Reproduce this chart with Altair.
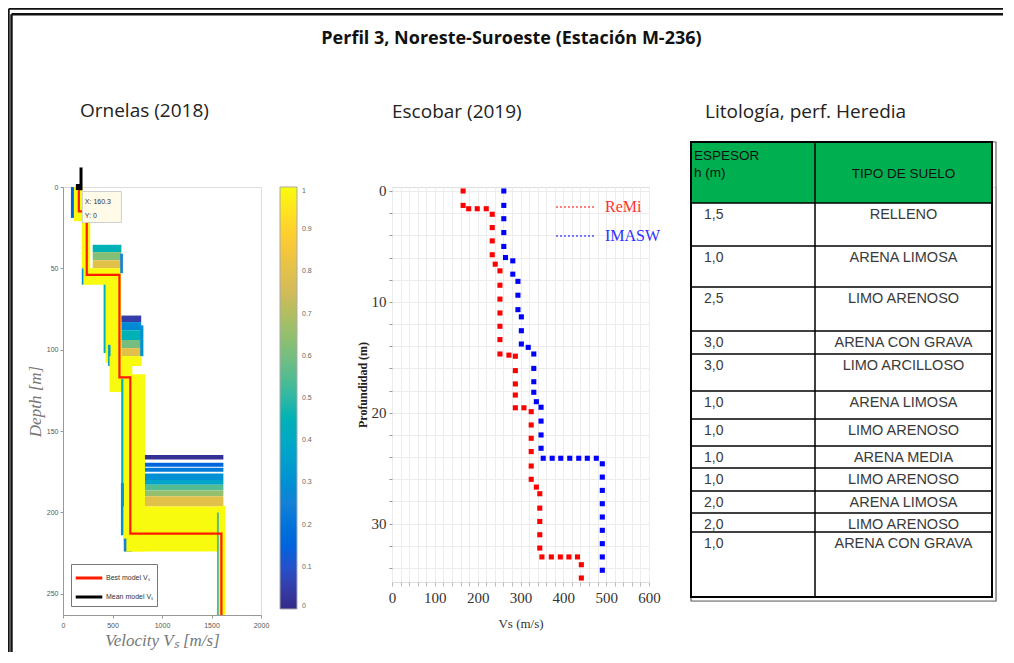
import altair as alt
import pandas as pd

# ---------------- data ----------------
# Ornelas (2018): ensemble of Vs models (blocks), velocity m/s, depth m, normalised likelihood
ens_v_from = [80, 110, 190, 190, 300, 300, 300, 220, 578, 410, 430, 590, 590, 590, 590, 590, 780, 455, 470, 590,
              588, 610, 828, 828, 828, 828, 828, 828, 828, 828, 585, 610, 615, 640, 1555, 1575]
ens_v_to = [118, 195, 275, 206, 590, 590, 590, 585, 605, 440, 585, 790, 790, 790, 790, 790, 812, 480, 700, 795,
            625, 830, 1620, 1620, 1620, 1620, 1620, 1620, 1620, 1620, 615, 1625, 700, 1625, 1575, 1640]
ens_d_from = [0, 0, 17, 50, 35.5, 40, 45, 50, 41, 60, 54, 79, 83, 88, 94, 99, 85, 97, 104, 104,
              118, 115, 164.7, 169.4, 172.5, 176, 180, 183, 186.5, 190, 182, 196.4, 216, 212, 200, 196]
ens_d_to = [19, 21, 60, 60, 40, 45, 50, 60, 53, 102, 108, 83, 88, 94, 99, 104, 104, 110, 126, 110,
            212, 224, 167.4, 171.9, 174.9, 180, 183, 186.5, 190, 196.4, 214, 219, 224, 224, 263, 263]
ens_prob = [0.15, 1, 1, 0.3, 0.45, 0.62, 0.8, 1, 0.25, 0.45, 1, 0.05, 0.28, 0.45, 0.6, 0.8, 0.3, 0.35, 1, 1,
            0.45, 1, 0.02, 0.15, 0.22, 0.3, 0.38, 0.55, 0.65, 0.8, 0.3, 1, 0.25, 1, 0.55, 1]

best_v = [160, 160, 240, 240, 570, 570, 680, 680, 1600, 1600]
best_d = [0, 15, 15, 54, 54, 117, 117, 213, 213, 263]
mean_v = [182, 182]
mean_d = [-12, 2]
tip_x = 160.3
tip_y = 0

# Escobar (2019)
remi_vs = [166, 166, 179, 199, 220, 234, 234, 234, 234, 241, 252, 252, 252, 252, 252, 252, 252, 273, 288, 288,
           288, 288, 288, 308, 325, 325, 325, 325, 325, 325, 337, 345, 345, 345, 345, 345, 350, 372, 393, 413,
           433, 442, 442]
remi_depth = [0, 1.3, 1.6, 1.6, 1.6, 2.1, 3.3, 4.5, 5.75, 6.6, 7.2, 8.5, 9.75, 11, 12.2, 13.4, 14.7, 14.8, 14.9,
              16.2, 17.4, 18.4, 19.55, 19.55, 19.9, 21.1, 22.3, 23.5, 24.8, 26.0, 26.7, 27.3, 28.6, 29.8, 31.0,
              32.2, 33.0, 33.0, 33.0, 33.0, 33.0, 33.7, 34.9]
imasw_vs = [261, 261, 261, 261, 261, 265, 282, 282, 294, 294, 294, 302, 302, 302, 318, 331, 331, 331, 331, 337,
            348, 348, 348, 348, 353, 374, 394, 415, 436, 456, 477, 491, 491, 491, 491, 491, 491, 491, 491, 491]
imasw_depth = [0, 1.3, 2.5, 3.75, 5.0, 6.0, 6.3, 7.5, 8.15, 9.4, 10.7, 11.35, 12.6, 13.8, 14.1, 14.7, 16.0, 17.2,
               18.15, 19.0, 19.5, 20.75, 22.0, 23.2, 24.1, 24.1, 24.1, 24.1, 24.1, 24.1, 24.1, 24.6, 25.8, 27.0,
               28.2, 29.4, 30.6, 31.8, 33.0, 34.2]

# Litología, perf. Heredia
espesor = ["1,5", "1,0", "2,5", "3,0", "3,0", "1,0", "1,0", "1,0", "1,0", "2,0", "2,0", "1,0"]
tipo_suelo = ["RELLENO", "ARENA LIMOSA", "LIMO ARENOSO", "ARENA CON GRAVA", "LIMO ARCILLOSO", "ARENA LIMOSA",
              "LIMO ARENOSO", "ARENA MEDIA", "LIMO ARENOSO", "ARENA LIMOSA", "LIMO ARENOSO", "ARENA CON GRAVA"]

# ---------------- layout (table row heights in px) ----------------
row_heights = [43, 41, 44, 23, 37, 28, 27, 22, 23, 22, 19, 65]
HEADER_H = 61
COL1_W = 124
TABLE_W = 301

PARULA = ["#352a87", "#0f5cdd", "#1481d6", "#06a4ca", "#2eb7a4", "#87bf77", "#d1bb59", "#fec832", "#f9fb0e"]
PARULA_DOM = [i / 8 for i in range(9)]

SERIF = "Liberation Serif"
SANS = "Liberation Sans"
TFONT = "Open Sans"

# ================= Left panel: Ornelas (2018) =================
ens = pd.DataFrame({"v0": ens_v_from, "v1": ens_v_to, "d0": ens_d_from, "d1": ens_d_to, "p": ens_prob})
xs_left = alt.Scale(domain=[0, 2000], nice=False)
ys_left = alt.Scale(domain=[0, 263], reverse=True, nice=False, zero=False)

x_axis_left = alt.Axis(values=[0, 500, 1000, 1500, 2000], format="d", labelFlush=False, grid=False,
                       labelFontSize=7, labelColor="#555", domainColor="#999", tickColor="#999", tickSize=3,
                       labelPadding=3,
                       title="Velocity Vₛ [m/s]", titleFont=SERIF, titleFontStyle="italic", titleFontSize=17,
                       titleFontWeight="normal", titleColor="#777", titlePadding=4)
y_axis_left = alt.Axis(values=[0, 50, 100, 150, 200, 250], format="d", labelFlush=False, grid=False,
                       labelFontSize=7, labelColor="#555", domainColor="#999", tickColor="#999", tickSize=3,
                       labelPadding=2,
                       title="Depth [m]", titleFont=SERIF, titleFontStyle="italic", titleFontSize=17,
                       titleFontWeight="normal", titleColor="#777", titlePadding=2)

rects = alt.Chart(ens).mark_rect().encode(
    x=alt.X("v0:Q", scale=xs_left, axis=x_axis_left),
    x2="v1:Q",
    y=alt.Y("d0:Q", scale=ys_left, axis=y_axis_left),
    y2="d1:Q",
    fill=alt.Fill("p:Q", scale=alt.Scale(domain=PARULA_DOM, range=PARULA),
                  legend=alt.Legend(title=None, orient="right", offset=19, direction="vertical",
                                    gradientLength=422, gradientThickness=17,
                                    values=[0, 0.1, 0.2, 0.3, 0.4, 0.5, 0.6, 0.7, 0.8, 0.9, 1],
                                    labelExpr="datum.value == 0 ? '0' : (datum.value == 1 ? '1' : format(datum.value, '.1f'))",
                                    labelFontSize=7, labelColor="#666", labelOffset=5,
                                    gradientStrokeColor="#aaa", gradientStrokeWidth=1, padding=0)),
)

model_names = ["Best model Vₛ", "Mean model Vₛ"]
lines_df = pd.DataFrame({
    "v": best_v + mean_v,
    "d": best_d + mean_d,
    "model": [model_names[0]] * len(best_v) + [model_names[1]] * len(mean_v),
    "i": list(range(len(best_v))) + list(range(len(mean_v))),
})
stroke_scale = alt.Scale(domain=model_names, range=["#ff1a00", "#000000"])
line_legend = alt.Legend(title=None, orient="none", legendX=8, legendY=377, symbolType="M-1.4,0H1.4",
                         symbolSize=361, symbolStrokeWidth=3, symbolOffset=4, labelFont=SANS, labelFontSize=7,
                         labelColor="#333", strokeColor="#777", fillColor="white", padding=3,
                         labelOffset=6)
best_line = alt.Chart(lines_df).transform_filter(alt.datum.model == model_names[0]).mark_line(
    strokeWidth=2.2).encode(
    x=alt.X("v:Q", scale=xs_left), y=alt.Y("d:Q", scale=ys_left),
    stroke=alt.Stroke("model:N", scale=stroke_scale, legend=line_legend), order="i:Q")
mean_line = alt.Chart(lines_df).transform_filter(alt.datum.model == model_names[1]).mark_line(
    strokeWidth=3).encode(
    x=alt.X("v:Q", scale=xs_left), y=alt.Y("d:Q", scale=ys_left),
    stroke=alt.Stroke("model:N", scale=stroke_scale, legend=line_legend), order="i:Q")

tip_df = pd.DataFrame({"x": [tip_x], "y": [tip_y]})
tip_box = alt.Chart(tip_df).mark_rect(width=39, height=31, xOffset=23, yOffset=20, fill="#fffbe8",
                                      stroke="#cfcfcf", strokeWidth=1).encode(
    x=alt.X("x:Q", scale=xs_left), y=alt.Y("y:Q", scale=ys_left))
tip_marker = alt.Chart(tip_df).mark_square(size=36, color="black", opacity=1).encode(
    x=alt.X("x:Q", scale=xs_left), y=alt.Y("y:Q", scale=ys_left))
tip_text_x = alt.Chart(tip_df).transform_calculate(lbl="'X: ' + format(datum.x, '.1f')").mark_text(
    align="left", baseline="middle", dx=6, dy=15, fontSize=7, color="#333", font=SANS).encode(
    x=alt.X("x:Q", scale=xs_left), y=alt.Y("y:Q", scale=ys_left), text="lbl:N")
tip_text_y = alt.Chart(tip_df).transform_calculate(lbl="'Y: ' + format(datum.y, 'd')").mark_text(
    align="left", baseline="middle", dx=6, dy=29, fontSize=7, color="#333", font=SANS).encode(
    x=alt.X("x:Q", scale=xs_left), y=alt.Y("y:Q", scale=ys_left), text="lbl:N")

left = alt.layer(rects, best_line, mean_line, tip_box, tip_marker, tip_text_x, tip_text_y).properties(
    width=198, height=428,
    title=alt.TitleParams("Ornelas (2018)", anchor="start", frame="group", dx=17, offset=40,
                          font=TFONT, fontSize=19, fontWeight="normal", color="#222"))

# ================= Middle panel: Escobar (2019) =================
esc = pd.DataFrame({
    "vs": remi_vs + imasw_vs,
    "d": remi_depth + imasw_depth,
    "method": ["ReMi"] * len(remi_vs) + ["IMASW"] * len(imasw_vs),
})
meth_scale = alt.Scale(domain=["ReMi", "IMASW"], range=["#ff0000", "#0000ff"])
meth_legend = alt.Legend(title=None, orient="none", legendX=163, legendY=-1, symbolType="stroke",
                         symbolSize=1600, symbolStrokeWidth=1.2, symbolDash=[2, 2],
                         labelFont=SERIF, labelFontSize=16, labelOffset=8, rowPadding=-4,
                         labelColor=alt.ExprRef(expr="datum.label == 'ReMi' ? '#ff3030' : '#3030ff'"))
x_axis_mid = alt.Axis(values=list(range(0, 601, 20)), labelFlush=False,
                      labelExpr="datum.value % 100 == 0 ? datum.label : ''",
                      grid=True, gridColor="#ececec", domain=False, tickColor="#bbb", tickSize=4,
                      labelFont=SERIF, labelFontSize=15, labelColor="#333", labelPadding=4,
                      title="Vs (m/s)", titleFont=SERIF, titleFontSize=13, titleFontWeight="normal",
                      titleColor="#333", titlePadding=12)
y_axis_mid = alt.Axis(values=list(range(0, 36, 2)), labelFlush=False,
                      labelExpr="datum.value % 10 == 0 ? datum.label : ''",
                      grid=True, gridColor="#ececec", domain=False, tickColor="#999", tickSize=3,
                      labelFont=SERIF, labelFontSize=15, labelColor="#333", labelPadding=3,
                      title="Profundidad (m)", titleFont=SERIF, titleFontSize=12, titleFontWeight="bold",
                      titleColor="#222", titlePadding=2)
middle = alt.Chart(esc).mark_square(size=26, strokeWidth=0, opacity=1).encode(
    x=alt.X("vs:Q", scale=alt.Scale(domain=[0, 600], nice=False), axis=x_axis_mid),
    y=alt.Y("d:Q", scale=alt.Scale(domain=[-0.36, 35.26], reverse=True, nice=False, zero=False),
            axis=y_axis_mid),
    fill=alt.Fill("method:N", scale=meth_scale, legend=meth_legend),
    stroke=alt.Stroke("method:N", scale=meth_scale, legend=meth_legend),
).properties(
    width=257, height=395,
    title=alt.TitleParams("Escobar (2019)", anchor="start", frame="group", dx=0, offset=62,
                          font=TFONT, fontSize=19, fontWeight="normal", color="#222"))

# ================= Right panel: lithology table =================
tops = [HEADER_H]
for h in row_heights[:-1]:
    tops.append(tops[-1] + h)
bottom = tops[-1] + row_heights[-1]

xs_t = alt.Scale(domain=[0, TABLE_W + 4], nice=False, zero=False)
ys_t = alt.Scale(domain=[45, bottom + 4], reverse=True, nice=False, zero=False)

rows_df = pd.DataFrame({"esp": espesor, "tipo": tipo_suelo, "top": tops,
                        "ty": [t + 12 for t in tops]})
header_df = pd.DataFrame({"x0": [0], "x1": [TABLE_W], "x2s": [TABLE_W + 4], "y0": [0], "y1": [HEADER_H],
                          "yb": [bottom], "ybs": [bottom + 4], "xc": [COL1_W],
                          "xm": [COL1_W + (TABLE_W - COL1_W) / 2]})
hlines_df = pd.DataFrame({"y": [HEADER_H] + tops[1:], "x0": 0, "x1": TABLE_W})

t_header = alt.Chart(header_df).mark_rect(fill="#00b050").encode(
    x=alt.X("x0:Q", scale=xs_t, axis=None), x2="x1:Q",
    y=alt.Y("y0:Q", scale=ys_t, axis=None), y2="y1:Q")
t_shadow = alt.Chart(header_df).mark_rect(fill=None, stroke="#666", strokeWidth=1.2).encode(
    x=alt.X("x0:Q", scale=xs_t, axis=None), x2="x2s:Q",
    y=alt.Y("y0:Q", scale=ys_t, axis=None), y2="ybs:Q")
t_frame = alt.Chart(header_df).mark_rect(fill=None, stroke="#000", strokeWidth=2).encode(
    x=alt.X("x0:Q", scale=xs_t, axis=None), x2="x1:Q",
    y=alt.Y("y0:Q", scale=ys_t, axis=None), y2="yb:Q")
t_hlines = alt.Chart(hlines_df).mark_rule(color="#000", strokeWidth=1.5).encode(
    x=alt.X("x0:Q", scale=xs_t, axis=None), x2="x1:Q",
    y=alt.Y("y:Q", scale=ys_t, axis=None))
t_vline = alt.Chart(header_df).mark_rule(color="#000", strokeWidth=1.5).encode(
    x=alt.X("xc:Q", scale=xs_t, axis=None), y=alt.Y("y0:Q", scale=ys_t, axis=None), y2="yb:Q")
t_h1 = alt.Chart(header_df).mark_text(align="left", baseline="middle", font=SANS, fontSize=13.5,
                                      color="#111", lineHeight=17, dx=3, dy=14).encode(
    x=alt.X("x0:Q", scale=xs_t, axis=None), y=alt.Y("y0:Q", scale=ys_t, axis=None),
    text=alt.value(["ESPESOR", "h (m)"]))
t_h2 = alt.Chart(header_df).mark_text(align="center", baseline="middle", font=SANS, fontSize=13.5,
                                      color="#111", dy=32).encode(
    x=alt.X("xm:Q", scale=xs_t, axis=None), y=alt.Y("y0:Q", scale=ys_t, axis=None),
    text=alt.value("TIPO DE SUELO"))
t_col1 = alt.Chart(rows_df).mark_text(align="left", baseline="middle", font=SANS, fontSize=14,
                                      color="#3a3a3a", dx=13).encode(
    x=alt.value(0), y=alt.Y("ty:Q", scale=ys_t, axis=None), text="esp:N")
t_col2 = alt.Chart(rows_df).mark_text(align="center", baseline="middle", font=SANS, fontSize=14.5,
                                      color="#3a3a3a").encode(
    x=alt.value(COL1_W + (TABLE_W - COL1_W) / 2), y=alt.Y("ty:Q", scale=ys_t, axis=None),
    text="tipo:N")

table = alt.layer(t_header, t_shadow, t_frame, t_hlines, t_vline, t_h1, t_h2, t_col1, t_col2).properties(
    width=TABLE_W + 4, height=bottom + 4 - 45,
    title=alt.TitleParams("Litología, perf. Heredia", anchor="start", frame="group", dx=14, offset=19,
                          font=TFONT, fontSize=19, fontWeight="normal", color="#222"))

# ================= Assemble =================
inner = alt.hconcat(
    alt.hconcat(left, middle, spacing=42).resolve_scale(fill="independent", stroke="independent"),
    table, spacing=27,
).resolve_scale(fill="independent", stroke="independent").properties(
    title=alt.TitleParams("Perfil 3, Noreste-Suroeste (Estación M-236)", anchor="middle", offset=54,
                          font=TFONT, fontSize=18, fontWeight="bold", color="#111"))

# figure frame (double line on top and left edges), positioned in px relative to the frame row
frame_df = pd.DataFrame({"k": [0]})
fb = alt.Chart(frame_df)
frame = alt.layer(
    fb.mark_rule(color="#111", strokeWidth=1.7).encode(x=alt.value(-54.15), x2=alt.value(940),
                                                       y=alt.value(-158.15)),
    fb.mark_rule(color="#111", strokeWidth=2.4).encode(x=alt.value(-51.5), x2=alt.value(940),
                                                       y=alt.value(-152.8)),
    fb.mark_rule(color="#111", strokeWidth=1.7).encode(x=alt.value(-54.15), y=alt.value(-158.15),
                                                       y2=alt.value(485)),
    fb.mark_rule(color="#111", strokeWidth=2.4).encode(x=alt.value(-51.5), y=alt.value(-152.8),
                                                       y2=alt.value(485)),
).properties(width=0, height=0, view=alt.ViewBackground(stroke="transparent", fill="transparent",
                                                         strokeWidth=0))

chart = alt.vconcat(frame, inner, spacing=0, bounds="flush").resolve_scale(
    fill="independent", stroke="independent").properties(
    padding={"left": 0, "top": 0, "right": 0, "bottom": 0},
).configure_view(stroke="transparent", strokeWidth=0).configure(background="white")

chart.save("out.html", embed_options={"renderer": "svg", "actions": False})
